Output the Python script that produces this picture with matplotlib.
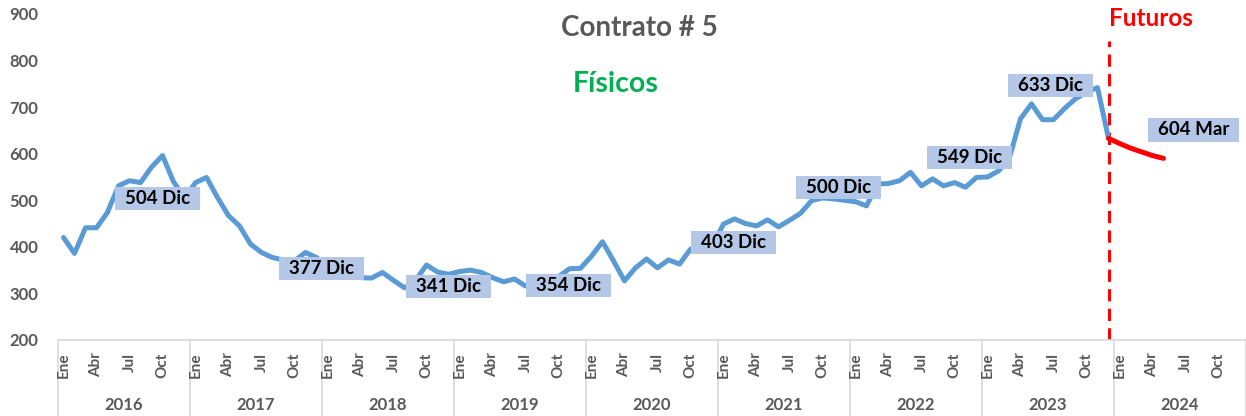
import matplotlib
matplotlib.use("Agg")
import matplotlib.pyplot as plt
import matplotlib.transforms as mtransforms
from matplotlib.path import Path

# ---------------- data ----------------
years = ["2016", "2017", "2018", "2019", "2020", "2021", "2022", "2023", "2024"]
month_names = ["Ene", "Feb", "Mar", "Abr", "May", "Jun", "Jul", "Ago", "Sep", "Oct", "Nov", "Dic"]
tick_months = ["Ene", "Abr", "Jul", "Oct"]

fisicos = [
    420, 386, 441, 441, 474, 531, 542, 538, 571, 596, 540, 504,   # 2016
    538, 549, 506, 467, 445, 406, 388, 377, 372, 370, 388, 377,   # 2017
    360, 345, 336, 334, 333, 345, 328, 312, 328, 361, 346, 341,   # 2018
    347, 350, 345, 334, 325, 331, 316, 320, 326, 336, 353, 354,   # 2019
    380, 411, 370, 327, 355, 374, 355, 372, 363, 395, 400, 403,   # 2020
    449, 460, 450, 445, 458, 443, 457, 472, 499, 505, 503, 500,   # 2021
    497, 488, 535, 536, 542, 560, 531, 546, 531, 538, 528, 549,   # 2022
    550, 563, 592, 675, 707, 673, 673, 697, 718, 732, 742, 633,   # 2023
]
futuros_start = 95  # Dic 2023
futuros = [633, 622, 612, 604, 596, 590]

label_idx = [11, 23, 35, 47, 59, 71, 83, 95]
label_txt = ["504 Dic", "377 Dic", "341 Dic", "354 Dic", "403 Dic", "500 Dic", "549 Dic", "633 Dic"]
label_off = [(-27, 0), (5, -11), (0, -12), (-12, -17), (21, 3), (-6, 13), (-7, 20), (-58, 53)]
fut_label_idx = 3
fut_label_txt = "604 Mar"
fut_label_off = (52, 22)

# ---------------- figure ----------------
W, H = 1246, 416
fig = plt.figure(figsize=(W / 100, H / 100), dpi=100)
ax = fig.add_axes([58 / W, 1 - 340 / H, 1 - 58 / W, (340 - 14) / H])

FONT = "Lato"
GRAY = "#595959"
SEP = "#D9D9D9"
BLUE = "#5B9BD5"

n = len(years) * 12
ax.set_xlim(-0.5, n - 0.5)
ax.set_ylim(200, 900)

x_f = list(range(len(fisicos)))
ax.plot(x_f, fisicos, color=BLUE, lw=3.6, solid_joinstyle="round", solid_capstyle="round", zorder=3)
x_fu = list(range(futuros_start, futuros_start + len(futuros)))
ax.plot(x_fu, futuros, color="#FF0000", lw=3.6, solid_capstyle="round", zorder=3)

ax.axvline(futuros_start, ymin=0, ymax=(843 - 200) / 700, color="#FF0000", lw=2.2,
           dashes=(4, 2.4), zorder=2)


def wide_box(x0, y0, width, height, mutation_size):
    px = 0.52 * mutation_size
    py = 0.17 * mutation_size
    xa, ya = x0 - px, y0 - py
    xb, yb = x0 + width + px, y0 + height + py
    return Path([(xa, ya), (xb, ya), (xb, yb), (xa, yb), (xa, ya)],
                [Path.MOVETO, Path.LINETO, Path.LINETO, Path.LINETO, Path.CLOSEPOLY])


box = dict(boxstyle=wide_box, fc="#B4C7E7", ec="none")
LBL_FS = 13.5
for i, t, (dx, dy) in zip(label_idx, label_txt, label_off):
    ax.annotate(t, (i, fisicos[i]), xytext=(dx, dy), textcoords="offset pixels",
                ha="center", va="center", fontsize=LBL_FS, fontweight="bold",
                family=FONT, color="black", bbox=box, zorder=5)
ax.annotate(fut_label_txt, (futuros_start + fut_label_idx, futuros[fut_label_idx]),
            xytext=fut_label_off, textcoords="offset pixels", ha="center", va="center",
            fontsize=LBL_FS, fontweight="bold", family=FONT, color="black", bbox=box, zorder=5)

# y axis
ax.set_yticks(range(200, 901, 100))
ax.tick_params(axis="y", length=0, pad=14, labelsize=12, labelcolor=GRAY)
for lbl in ax.get_yticklabels():
    lbl.set_fontweight("bold")
    lbl.set_family(FONT)

for s in ["left", "right", "top"]:
    ax.spines[s].set_visible(False)
ax.spines["bottom"].set_color(SEP)
ax.spines["bottom"].set_linewidth(1.2)

# x axis: months
ticks = []
tlabels = []
for y in range(len(years)):
    for m in tick_months:
        ticks.append(y * 12 + month_names.index(m))
        tlabels.append(m)
ax.set_xticks(ticks)
ax.set_xticklabels(tlabels, rotation=90, fontsize=11, fontweight="bold", color=GRAY, family=FONT)
ax.tick_params(axis="x", length=0, pad=9)

trans = mtransforms.blended_transform_factory(ax.transData, ax.transAxes)
ax_h = 326
for y in range(len(years) + 1):
    ax.plot([y * 12 - 0.5] * 2, [0, -76 / ax_h], transform=trans, color=SEP, lw=1.2,
            clip_on=False, zorder=1)
for y, yr in enumerate(years):
    ax.text(y * 12 + 5.5, -65 / ax_h, yr, transform=trans, ha="center", va="center",
            fontsize=12, fontweight="bold", color=GRAY, family=FONT)

# titles
fig.text(639 / W, 1 - 28 / H, "Contrato # 5", ha="center", va="center", fontsize=20,
         fontweight="bold", color=GRAY, family=FONT)
fig.text(616 / W, 1 - 84 / H, "Físicos", ha="center", va="center", fontsize=20.5,
         fontweight="bold", color="#00B050", family=FONT)
fig.text(1151 / W, 1 - 18 / H, "Futuros", ha="center", va="center", fontsize=17.5,
         fontweight="bold", color="#FF0000", family=FONT)

fig.savefig("out.png", dpi=100)
